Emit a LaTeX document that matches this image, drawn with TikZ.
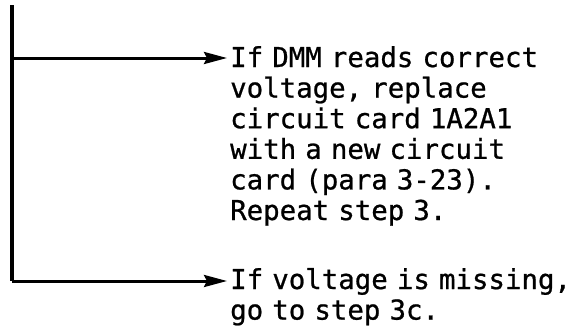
\documentclass[tikz,border=0pt]{standalone}
\usepackage{fontspec}
\newfontfamily\notefont{DejaVu Sans Mono}[FakeBold=0.8]
\usetikzlibrary{arrows.meta}
\tikzset{
  trunk/.style={line width=3.4pt},
  branch/.style={line width=3pt, -{Stealth[length=23pt,width=12pt,inset=3pt]}},
  note/.style={anchor=base west, inner sep=0pt, text width=350pt, align=left,
    font=\notefont\fontsize{27.4}{30.6}\selectfont},
}

\begin{document}
\begin{tikzpicture}[x=1pt,y=-1pt]
        \useasboundingbox (0,0) rectangle (578,330);
        % trunk line on the left
        \coordinate (top) at (12,5);
        \coordinate (fork) at (12,58);
        \coordinate (bottom) at (12,281);
        \draw[trunk] (top) -- (bottom);

        % outcomes
        \node[note] (correct) at (230,67) {If DMM reads correct\\voltage, replace\\circuit card 1A2A1\\with a new circuit\\card (para 3-23).\\Repeat step 3.};
        \node[note] (missing) at (230,289) {If voltage is missing,\\go to step 3c.};

        % branches
        \draw[branch] (fork) -- ([xshift=-3pt,yshift=9pt]correct.base west);
        \draw[branch] (bottom) -- ([xshift=-3pt,yshift=8pt]missing.base west);
    \end{tikzpicture}
\end{document}
